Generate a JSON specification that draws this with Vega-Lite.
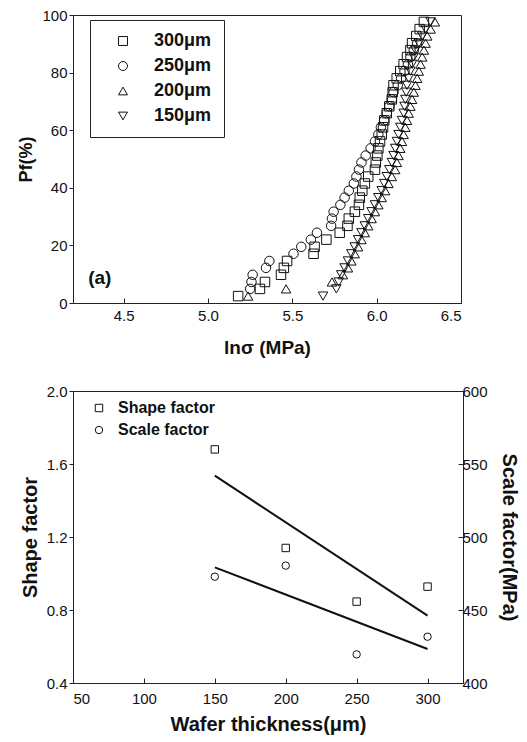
{
  "$schema": "https://vega.github.io/schema/vega-lite/v6.json",
  "padding": {"left": 17, "top": 7, "right": 5, "bottom": 3},
  "spacing": 25,
  "config": {
    "font": "Liberation Sans",
    "view": {"stroke": "#222", "strokeWidth": 1},
    "axis": {"grid": false, "domainColor": "#222", "tickColor": "#222", "labelColor": "#111", "titleColor": "#111", "labelFontSize": 15, "titleFontWeight": "bold", "labelFont": "Liberation Sans", "titleFont": "Liberation Sans"},
    "legend": {"labelFont": "Liberation Sans", "labelColor": "#111"}
  },
  "datasets": {
    "weibull": [
      {"t": "300μm", "lns": 5.179, "pf": 2.4}, {"t": "300μm", "lns": 5.308, "pf": 4.9}, {"t": "300μm", "lns": 5.338, "pf": 7.3}, {"t": "300μm", "lns": 5.433, "pf": 9.8}, {"t": "300μm", "lns": 5.45, "pf": 12.2}, {"t": "300μm", "lns": 5.469, "pf": 14.6}, {"t": "300μm", "lns": 5.626, "pf": 17.1}, {"t": "300μm", "lns": 5.632, "pf": 19.5}, {"t": "300μm", "lns": 5.702, "pf": 22.0}, {"t": "300μm", "lns": 5.781, "pf": 24.4}, {"t": "300μm", "lns": 5.827, "pf": 26.8}, {"t": "300μm", "lns": 5.835, "pf": 29.3}, {"t": "300μm", "lns": 5.871, "pf": 31.7}, {"t": "300μm", "lns": 5.895, "pf": 34.1}, {"t": "300μm", "lns": 5.9, "pf": 36.6}, {"t": "300μm", "lns": 5.915, "pf": 39.0}, {"t": "300μm", "lns": 5.93, "pf": 41.5}, {"t": "300μm", "lns": 5.95, "pf": 43.9}, {"t": "300μm", "lns": 5.99, "pf": 46.3}, {"t": "300μm", "lns": 5.995, "pf": 48.8}, {"t": "300μm", "lns": 6.004, "pf": 51.2}, {"t": "300μm", "lns": 6.01, "pf": 53.7}, {"t": "300μm", "lns": 6.02, "pf": 56.1}, {"t": "300μm", "lns": 6.03, "pf": 58.5}, {"t": "300μm", "lns": 6.038, "pf": 61.0}, {"t": "300μm", "lns": 6.045, "pf": 63.4}, {"t": "300μm", "lns": 6.06, "pf": 65.9}, {"t": "300μm", "lns": 6.075, "pf": 68.3}, {"t": "300μm", "lns": 6.09, "pf": 70.7}, {"t": "300μm", "lns": 6.095, "pf": 73.2}, {"t": "300μm", "lns": 6.1, "pf": 75.6}, {"t": "300μm", "lns": 6.119, "pf": 78.0}, {"t": "300μm", "lns": 6.14, "pf": 80.5}, {"t": "300μm", "lns": 6.16, "pf": 82.9}, {"t": "300μm", "lns": 6.18, "pf": 85.4}, {"t": "300μm", "lns": 6.2, "pf": 87.8}, {"t": "300μm", "lns": 6.21, "pf": 90.2}, {"t": "300μm", "lns": 6.235, "pf": 92.7}, {"t": "300μm", "lns": 6.255, "pf": 95.1}, {"t": "300μm", "lns": 6.28, "pf": 97.6},
      {"t": "250μm", "lns": 5.25, "pf": 4.9}, {"t": "250μm", "lns": 5.258, "pf": 7.3}, {"t": "250μm", "lns": 5.265, "pf": 9.8}, {"t": "250μm", "lns": 5.344, "pf": 12.2}, {"t": "250μm", "lns": 5.364, "pf": 14.6}, {"t": "250μm", "lns": 5.507, "pf": 17.1}, {"t": "250μm", "lns": 5.553, "pf": 19.5}, {"t": "250μm", "lns": 5.61, "pf": 22.0}, {"t": "250μm", "lns": 5.646, "pf": 24.4}, {"t": "250μm", "lns": 5.73, "pf": 26.8}, {"t": "250μm", "lns": 5.735, "pf": 29.3}, {"t": "250μm", "lns": 5.745, "pf": 31.7}, {"t": "250μm", "lns": 5.785, "pf": 34.1}, {"t": "250μm", "lns": 5.81, "pf": 36.6}, {"t": "250μm", "lns": 5.835, "pf": 39.0}, {"t": "250μm", "lns": 5.865, "pf": 41.5}, {"t": "250μm", "lns": 5.88, "pf": 43.9}, {"t": "250μm", "lns": 5.895, "pf": 46.3}, {"t": "250μm", "lns": 5.91, "pf": 48.8}, {"t": "250μm", "lns": 5.935, "pf": 51.2}, {"t": "250μm", "lns": 5.964, "pf": 53.7}, {"t": "250μm", "lns": 5.99, "pf": 56.1}, {"t": "250μm", "lns": 6.01, "pf": 58.5}, {"t": "250μm", "lns": 6.025, "pf": 61.0}, {"t": "250μm", "lns": 6.045, "pf": 63.4}, {"t": "250μm", "lns": 6.06, "pf": 65.9}, {"t": "250μm", "lns": 6.075, "pf": 68.3}, {"t": "250μm", "lns": 6.09, "pf": 70.7}, {"t": "250μm", "lns": 6.1, "pf": 73.2}, {"t": "250μm", "lns": 6.125, "pf": 75.6}, {"t": "250μm", "lns": 6.145, "pf": 78.0}, {"t": "250μm", "lns": 6.165, "pf": 80.5}, {"t": "250μm", "lns": 6.185, "pf": 82.9}, {"t": "250μm", "lns": 6.2, "pf": 85.4}, {"t": "250μm", "lns": 6.22, "pf": 87.8}, {"t": "250μm", "lns": 6.24, "pf": 90.2},
      {"t": "200μm", "lns": 5.238, "pf": 2.4}, {"t": "200μm", "lns": 5.463, "pf": 4.9}, {"t": "200μm", "lns": 5.735, "pf": 7.3}, {"t": "200μm", "lns": 5.8, "pf": 9.8}, {"t": "200μm", "lns": 5.83, "pf": 12.2}, {"t": "200μm", "lns": 5.85, "pf": 14.6}, {"t": "200μm", "lns": 5.87, "pf": 17.1}, {"t": "200μm", "lns": 5.89, "pf": 19.5}, {"t": "200μm", "lns": 5.91, "pf": 22.0}, {"t": "200μm", "lns": 5.93, "pf": 24.4}, {"t": "200μm", "lns": 5.95, "pf": 26.8}, {"t": "200μm", "lns": 5.97, "pf": 29.3}, {"t": "200μm", "lns": 5.99, "pf": 31.7}, {"t": "200μm", "lns": 6.01, "pf": 34.1}, {"t": "200μm", "lns": 6.03, "pf": 36.6}, {"t": "200μm", "lns": 6.05, "pf": 39.0}, {"t": "200μm", "lns": 6.07, "pf": 41.5}, {"t": "200μm", "lns": 6.09, "pf": 43.9}, {"t": "200μm", "lns": 6.11, "pf": 46.3}, {"t": "200μm", "lns": 6.12, "pf": 48.8}, {"t": "200μm", "lns": 6.13, "pf": 51.2}, {"t": "200μm", "lns": 6.14, "pf": 53.7}, {"t": "200μm", "lns": 6.15, "pf": 56.1}, {"t": "200μm", "lns": 6.16, "pf": 58.5}, {"t": "200μm", "lns": 6.17, "pf": 61.0}, {"t": "200μm", "lns": 6.18, "pf": 63.4}, {"t": "200μm", "lns": 6.19, "pf": 65.9}, {"t": "200μm", "lns": 6.2, "pf": 68.3}, {"t": "200μm", "lns": 6.21, "pf": 70.7}, {"t": "200μm", "lns": 6.22, "pf": 73.2}, {"t": "200μm", "lns": 6.23, "pf": 75.6}, {"t": "200μm", "lns": 6.24, "pf": 78.0}, {"t": "200μm", "lns": 6.25, "pf": 80.5}, {"t": "200μm", "lns": 6.26, "pf": 82.9}, {"t": "200μm", "lns": 6.27, "pf": 85.4}, {"t": "200μm", "lns": 6.28, "pf": 87.8}, {"t": "200μm", "lns": 6.29, "pf": 90.2}, {"t": "200μm", "lns": 6.3, "pf": 92.7}, {"t": "200μm", "lns": 6.32, "pf": 95.1}, {"t": "200μm", "lns": 6.345, "pf": 97.6},
      {"t": "150μm", "lns": 5.682, "pf": 2.4}, {"t": "150μm", "lns": 5.761, "pf": 4.9}, {"t": "150μm", "lns": 5.775, "pf": 7.3}, {"t": "150μm", "lns": 5.79, "pf": 9.8}, {"t": "150μm", "lns": 5.81, "pf": 12.2}, {"t": "150μm", "lns": 5.83, "pf": 14.6}, {"t": "150μm", "lns": 5.85, "pf": 17.1}, {"t": "150μm", "lns": 5.87, "pf": 19.5}, {"t": "150μm", "lns": 5.89, "pf": 22.0}, {"t": "150μm", "lns": 5.91, "pf": 24.4}, {"t": "150μm", "lns": 5.93, "pf": 26.8}, {"t": "150μm", "lns": 5.95, "pf": 29.3}, {"t": "150μm", "lns": 5.97, "pf": 31.7}, {"t": "150μm", "lns": 5.99, "pf": 34.1}, {"t": "150μm", "lns": 6.01, "pf": 36.6}, {"t": "150μm", "lns": 6.03, "pf": 39.0}, {"t": "150μm", "lns": 6.045, "pf": 41.5}, {"t": "150μm", "lns": 6.06, "pf": 43.9}, {"t": "150μm", "lns": 6.075, "pf": 46.3}, {"t": "150μm", "lns": 6.09, "pf": 48.8}, {"t": "150μm", "lns": 6.1, "pf": 51.2}, {"t": "150μm", "lns": 6.11, "pf": 53.7}, {"t": "150μm", "lns": 6.12, "pf": 56.1}, {"t": "150μm", "lns": 6.13, "pf": 58.5}, {"t": "150μm", "lns": 6.14, "pf": 61.0}, {"t": "150μm", "lns": 6.15, "pf": 63.4}, {"t": "150μm", "lns": 6.16, "pf": 65.9}, {"t": "150μm", "lns": 6.165, "pf": 68.3}, {"t": "150μm", "lns": 6.17, "pf": 70.7}, {"t": "150μm", "lns": 6.175, "pf": 73.2}, {"t": "150μm", "lns": 6.18, "pf": 75.6}, {"t": "150μm", "lns": 6.19, "pf": 78.0}, {"t": "150μm", "lns": 6.2, "pf": 80.5}, {"t": "150μm", "lns": 6.21, "pf": 82.9}, {"t": "150μm", "lns": 6.22, "pf": 85.4}, {"t": "150μm", "lns": 6.23, "pf": 87.8}, {"t": "150μm", "lns": 6.25, "pf": 90.2}, {"t": "150μm", "lns": 6.27, "pf": 92.7}, {"t": "150μm", "lns": 6.29, "pf": 95.1}, {"t": "150μm", "lns": 6.32, "pf": 97.6}
    ],
    "factors": [
      {"thk": 150, "param": "Shape factor", "value": 1.68},
      {"thk": 200, "param": "Shape factor", "value": 1.14},
      {"thk": 250, "param": "Shape factor", "value": 0.846},
      {"thk": 300, "param": "Shape factor", "value": 0.928},
      {"thk": 150, "param": "Scale factor", "value": 472.8},
      {"thk": 200, "param": "Scale factor", "value": 480.4},
      {"thk": 250, "param": "Scale factor", "value": 419.6},
      {"thk": 300, "param": "Scale factor", "value": 431.7}
    ],
    "fits": [
      {"thk": 150, "param": "Shape factor", "value": 1.536},
      {"thk": 300, "param": "Shape factor", "value": 0.769},
      {"thk": 150, "param": "Scale factor", "value": 479.2},
      {"thk": 300, "param": "Scale factor", "value": 423.3}
    ]
  },
  "resolve": {"scale": {"shape": "independent"}, "legend": {"shape": "independent"}},
  "vconcat": [
    {
      "width": 388,
      "height": 288,
      "layer": [
        {
          "data": {"name": "weibull"},
          "mark": {"type": "point", "filled": false, "strokeWidth": 1, "color": "#111", "size": 90, "opacity": 1},
          "encoding": {
            "x": {"field": "lns", "type": "quantitative", "scale": {"domain": [4.2, 6.5], "nice": false, "zero": false}, "axis": {"title": "lnσ (MPa)", "values": [4.5, 5.0, 5.5, 6.0, 6.5], "format": ".1f", "tickSize": -5, "labelPadding": 10, "titlePadding": 15, "titleFontSize": 19}},
            "y": {"field": "pf", "type": "quantitative", "scale": {"domain": [0, 100], "nice": false}, "axis": {"title": "Pf(%)", "values": [0, 20, 40, 60, 80, 100], "tickSize": 4, "labelPadding": 2, "titlePadding": 6, "titleFontSize": 18}},
            "shape": {"field": "t", "type": "nominal", "scale": {"domain": ["300μm", "250μm", "200μm", "150μm"], "range": ["square", "circle", "triangle-up", "triangle-down"]},
              "legend": {"title": null, "orient": "none", "legendX": 17, "legendY": 5, "strokeColor": "#222", "padding": 12, "symbolOffset": 12, "labelOffset": 22, "rowPadding": 7, "labelFontSize": 18, "labelFontWeight": "bold", "symbolSize": 80, "symbolStrokeWidth": 1, "symbolStrokeColor": "#111"}}
          }
        },
        {
          "data": {"values": [{"label": "(a)"}]},
          "mark": {"type": "text", "align": "left", "baseline": "middle", "fontSize": 19, "fontWeight": "bold", "color": "#111"},
          "encoding": {"x": {"datum": 4.29, "type": "quantitative"}, "y": {"datum": 8.7, "type": "quantitative"}, "text": {"field": "label"}}
        }
      ]
    },
    {
      "width": 390,
      "height": 292,
      "encoding": {
        "x": {"field": "thk", "type": "quantitative", "scale": {"domain": [50, 325], "nice": false, "zero": false}, "axis": {"title": "Wafer thickness(μm)", "values": [50, 100, 150, 200, 250, 300], "tickSize": -5, "labelPadding": 13, "titlePadding": 8, "titleFontSize": 20}}
      },
      "layer": [
        {
          "encoding": {
            "y": {"field": "value", "type": "quantitative", "scale": {"domain": [0.4, 2.0], "nice": false, "zero": false}, "axis": {"title": "Shape factor", "values": [0.4, 0.8, 1.2, 1.6, 2.0], "format": ".1f", "tickSize": 4, "labelPadding": 2, "titlePadding": 6, "titleFontSize": 20}}
          },
          "layer": [
            {
              "data": {"name": "fits"},
              "transform": [{"filter": "datum.param === 'Shape factor'"}],
              "mark": {"type": "line", "color": "#111", "strokeWidth": 2}
            },
            {
              "data": {"name": "factors"},
              "transform": [{"filter": "datum.param === 'Shape factor'"}],
              "mark": {"type": "point", "filled": false, "strokeWidth": 1, "color": "#111", "size": 55, "opacity": 1},
              "encoding": {
                "shape": {"field": "param", "type": "nominal", "scale": {"domain": ["Shape factor", "Scale factor"], "range": ["square", "circle"]},
                  "legend": {"title": null, "orient": "none", "legendX": 18, "legendY": 9, "padding": 0, "labelFontSize": 16, "labelFontWeight": "bold", "labelOffset": 11, "rowPadding": 6, "symbolSize": 55, "symbolStrokeWidth": 1, "symbolStrokeColor": "#111"}}
              }
            },
            {
              "data": {"values": [{"label": "(b)"}]},
              "mark": {"type": "text", "align": "left", "baseline": "middle", "fontSize": 19, "fontWeight": "bold", "color": "#111"},
              "encoding": {"x": {"datum": 63.9, "type": "quantitative"}, "y": {"datum": 0.564, "type": "quantitative"}, "text": {"field": "label"}}
            }
          ]
        },
        {
          "encoding": {
            "y": {"field": "value", "type": "quantitative", "scale": {"domain": [400, 600], "nice": false, "zero": false}, "axis": {"orient": "right", "title": "Scale factor(MPa)", "values": [400, 450, 500, 550, 600], "tickSize": -5, "labelPadding": 4, "titlePadding": 11, "titleFontSize": 20}}
          },
          "layer": [
            {
              "data": {"name": "fits"},
              "transform": [{"filter": "datum.param === 'Scale factor'"}],
              "mark": {"type": "line", "color": "#111", "strokeWidth": 2}
            },
            {
              "data": {"name": "factors"},
              "transform": [{"filter": "datum.param === 'Scale factor'"}],
              "mark": {"type": "point", "filled": false, "strokeWidth": 1, "color": "#111", "size": 55, "opacity": 1},
              "encoding": {
                "shape": {"field": "param", "type": "nominal", "scale": {"domain": ["Shape factor", "Scale factor"], "range": ["square", "circle"]}}
              }
            }
          ]
        }
      ],
      "resolve": {"scale": {"y": "independent"}}
    }
  ]
}
